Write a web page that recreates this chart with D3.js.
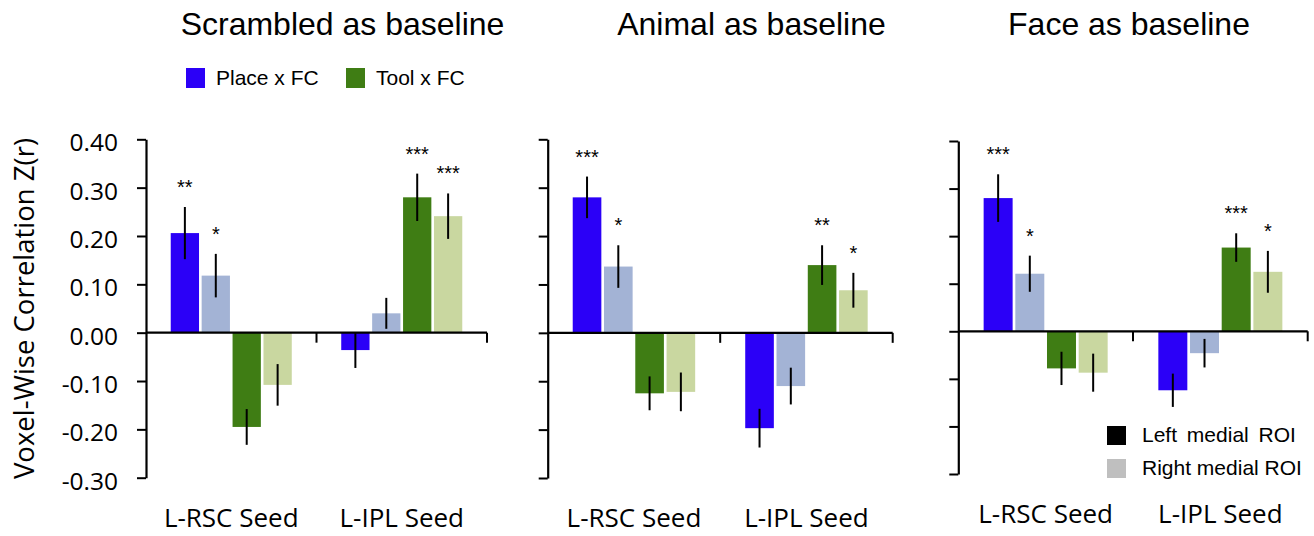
<!DOCTYPE html>
<html>
<head>
<meta charset="utf-8">
<script src="https://cdn.jsdelivr.net/npm/d3@7"></script>
<style>
  html, body { margin: 0; padding: 0; background: #fff; }
  svg { display: block; }
</style>
</head>
<body>
<svg id="chart" width="1314" height="536"></svg>
<script>
// ---------------- data ----------------
const panelTitles = ["Scrambled as baseline", "Animal as baseline", "Face as baseline"];
const seeds = ["L-RSC Seed", "L-IPL Seed"];
const seriesKeys = ["Place-Left", "Place-Right", "Tool-Left", "Tool-Right"];
const yTicks = [0.40, 0.30, 0.20, 0.10, 0.00, -0.10, -0.20, -0.30];
const yAxisTitle = "Voxel-Wise Correlation Z(r)";
const topLegendLabels = ["Place x FC", "Tool x FC"];
const bottomLegendLabels = ["Left medial ROI", "Right medial ROI"];

// per panel, per seed: [Place-Left, Place-Right, Tool-Left, Tool-Right]
const scrambledMeans  = [[0.206, 0.118, -0.195, -0.108], [-0.036, 0.040, 0.280, 0.241]];
const scrambledErrors = [[0.054, 0.045, 0.037, 0.043], [0.037, 0.032, 0.049, 0.047]];
const scrambledStars  = [["**", "*", "", ""], ["", "", "***", "***"]];

const animalMeans  = [[0.280, 0.137, -0.125, -0.122], [-0.197, -0.110, 0.140, 0.088]];
const animalErrors = [[0.043, 0.044, 0.035, 0.040], [0.040, 0.038, 0.041, 0.036]];
const animalStars  = [["***", "*", "", ""], ["", "", "**", "*"]];

const faceMeans  = [[0.280, 0.121, -0.078, -0.087], [-0.124, -0.046, 0.176, 0.125]];
const faceErrors = [[0.050, 0.038, 0.035, 0.040], [0.035, 0.030, 0.030, 0.044]];
const faceStars  = [["***", "*", "", ""], ["", "", "***", "*"]];

// ---------------- styles / layout ----------------
const seriesColors = ["#2b00f7", "#a3b3d5", "#3f7d14", "#c9d7a0"];
const legendTopColors = ["#2b00f7", "#3f7d14"];
const legendBottomColors = ["#000000", "#bfbfbf"];

const panelData = [
  { means: scrambledMeans, errors: scrambledErrors, stars: scrambledStars },
  { means: animalMeans, errors: animalErrors, stars: animalStars },
  { means: faceMeans, errors: faceErrors, stars: faceStars }
];
const panelLayout = [
  { x0: 146,   x1: 487,    yTop: 139.3, yBot: 477.7, titleX: 342.5 },
  { x0: 547.7, x1: 892.7,  yTop: 139.3, yBot: 478,   titleX: 751.5 },
  { x0: 958.3, x1: 1307.7, yTop: 141,   yBot: 474,   titleX: 1129 }
];

const svg = d3.select("#chart");
const sansFont = "'Liberation Sans', Arial, sans-serif";
const labelFont = "'Open Sans', 'Noto Sans', sans-serif";

panelData.forEach((pd, pi) => {
  const L = panelLayout[pi];
  const g = svg.append("g");

  const y = d3.scaleLinear().domain([-0.30, 0.40]).range([L.yBot, L.yTop]);
  const xOuter = d3.scaleBand().domain(seeds).range([L.x0, L.x1]).padding(0);
  const xInner = d3.scaleBand().domain(seriesKeys)
    .range([0, xOuter.bandwidth()])
    .paddingInner(0.085).paddingOuter(0.8);

  // title
  g.append("text")
    .attr("x", L.titleX).attr("y", 35)
    .attr("text-anchor", "middle")
    .style("font-family", sansFont).style("font-size", "32px").attr("fill", "#000")
    .text(panelTitles[pi]);

  // bars
  seeds.forEach((seed, si) => {
    const gx = xOuter(seed);
    seriesKeys.forEach((key, ki) => {
      const v = pd.means[si][ki];
      const e = pd.errors[si][ki];
      const bx = gx + xInner(key);
      g.append("rect")
        .attr("x", bx).attr("width", xInner.bandwidth())
        .attr("y", y(Math.max(0, v)))
        .attr("height", Math.abs(y(v) - y(0)))
        .attr("fill", seriesColors[ki]);
      const cx = bx + xInner.bandwidth() / 2;
      g.append("line")
        .attr("x1", cx).attr("x2", cx)
        .attr("y1", y(v + e)).attr("y2", y(v - e))
        .attr("stroke", "#000").attr("stroke-width", 2);
      const s = pd.stars[si][ki];
      if (s) {
        g.append("text")
          .attr("x", cx).attr("y", y(v + e) - 13)
          .attr("text-anchor", "middle")
          .style("font-family", sansFont).style("font-size", "20px")
          .text(s);
      }
    });
  });

  // y axis
  const yAxis = d3.axisLeft(y).tickValues(yTicks).tickSize(9).tickSizeOuter(0)
    .tickFormat(pi === 0 ? (d => d.toFixed(2)) : "");
  const ya = g.append("g").attr("transform", `translate(${L.x0},0)`).call(yAxis);
  ya.select(".domain").attr("stroke-width", 2.2);
  ya.selectAll(".tick line").attr("stroke-width", 2);
  ya.selectAll(".tick text")
    .attr("x", -28).attr("dy", null).attr("y", 11.5)
    .style("font-family", labelFont).style("font-size", "24.5px").attr("fill", "#000");

  // x axis at zero with separator ticks
  g.append("line")
    .attr("x1", L.x0).attr("x2", L.x1)
    .attr("y1", y(0)).attr("y2", y(0))
    .attr("stroke", "#000").attr("stroke-width", 2.2);
  seeds.forEach(seed => {
    const xb = xOuter(seed) + xOuter.bandwidth();
    g.append("line")
      .attr("x1", xb).attr("x2", xb)
      .attr("y1", y(0)).attr("y2", y(0) + 10)
      .attr("stroke", "#000").attr("stroke-width", 2);
    g.append("text")
      .attr("x", xOuter(seed) + xOuter.bandwidth() / 2)
      .attr("y", L.yBot + 49)
      .attr("text-anchor", "middle")
      .style("font-family", labelFont).style("font-size", "26px").attr("fill", "#000")
      .text(seed);
  });

  if (pi === 0) {
    g.append("text")
      .attr("transform", `translate(34,${(L.yTop + L.yBot) / 2}) rotate(-90)`)
      .attr("text-anchor", "middle")
      .style("font-family", labelFont).style("font-size", "27.5px").attr("fill", "#000")
      .text(yAxisTitle);
  }
});

// top legend
const topLegendX = [186, 346];
topLegendLabels.forEach((lab, i) => {
  svg.append("rect").attr("x", topLegendX[i]).attr("y", 68).attr("width", 19).attr("height", 20)
    .attr("fill", legendTopColors[i]);
  svg.append("text").attr("x", topLegendX[i] + 30).attr("y", 85)
    .style("font-family", sansFont).style("font-size", "21px").text(lab);
});

// bottom legend
const bottomLegendY = [426, 459];
bottomLegendLabels.forEach((lab, i) => {
  svg.append("rect").attr("x", 1107).attr("y", bottomLegendY[i]).attr("width", 19).attr("height", 19)
    .attr("fill", legendBottomColors[i]);
  svg.append("text").attr("x", 1142).attr("y", bottomLegendY[i] + 16)
    .style("font-family", sansFont).style("font-size", "21px")
    .style("word-spacing", i === 0 ? "4px" : "0px")
    .text(lab);
});
</script>
</body>
</html>
